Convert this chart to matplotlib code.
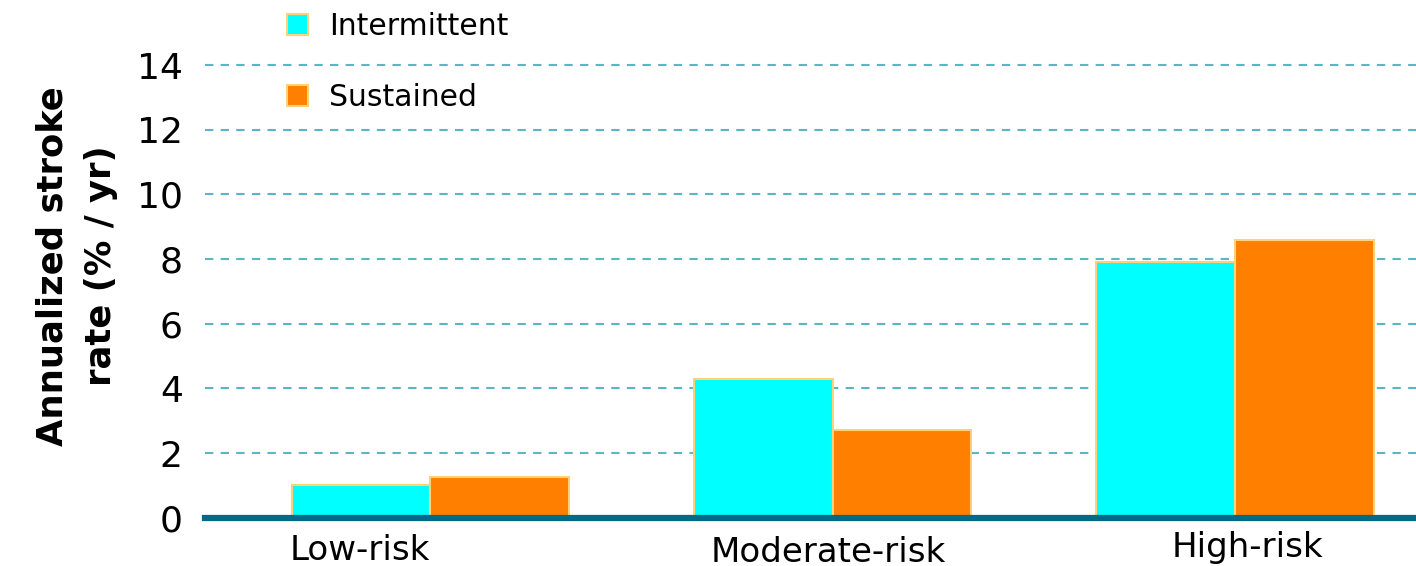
import numpy as np
import matplotlib
matplotlib.use("Agg")
from matplotlib import pyplot as plt

# === dados ===
categorias = ["Low-risk", "Moderate-risk", "High-risk"]
intermitente = [1.0, 4.3, 7.9]
sustentado = [1.25, 2.7, 8.6]
series = ["Intermittent", "Sustained"]
yticks = [0, 2, 4, 6, 8, 10, 12, 14]

# === estilo ===
cor_int = "#00FFFF"
cor_sus = "#FF7F00"
cor_borda = "#FFD27A"
cor_grade = "#5BB5C5"
cor_base = "#006A88"
largura = 0.345
desloc_rotulo = [-0.175, -0.01, 0.03]  # ajuste horizontal dos rotulos das categorias
altura_rotulo = [-0.5, -0.55, -0.4]

fig = plt.figure(figsize=(14.16, 5.66), dpi=100)
ax = fig.add_axes([0.1448, 0.0853, 0.8552, 0.8168])

x = np.arange(len(categorias))
b1 = ax.bar(x - largura / 2, intermitente, largura, color=cor_int,
            edgecolor=cor_borda, linewidth=1.5, label=series[0], zorder=3)
b2 = ax.bar(x + largura / 2, sustentado, largura, color=cor_sus,
            edgecolor=cor_borda, linewidth=1.5, label=series[1], zorder=3)

ax.set_xlim(-0.56, 2.45)
ax.set_ylim(0, 14.3)
ax.set_yticks(yticks)
ax.set_yticklabels([str(v) for v in yticks], fontsize=26)
ax.tick_params(axis="y", length=0, pad=16)
ax.set_xticks([])

for i, nome in enumerate(categorias):
    ax.text(x[i] + desloc_rotulo[i], altura_rotulo[i], nome, ha="center", va="top",
            fontsize=24.5, transform=ax.transData)

for v in yticks[1:]:
    ax.axhline(v, color=cor_grade, linestyle=(0, (4, 3.5)), linewidth=1.5, zorder=1)

for lado in ["top", "right", "left"]:
    ax.spines[lado].set_visible(False)
ax.spines["bottom"].set_color(cor_base)
ax.spines["bottom"].set_linewidth(4.5)
ax.spines["bottom"].set_zorder(4)

fig.text(0.054, 0.53, "Annualized stroke\nrate (% / yr)", rotation=90,
         ha="center", va="center", fontsize=25.5, fontweight="bold",
         linespacing=1.55)

fig.legend(handles=[b1, b2], labels=series, loc="upper left",
           bbox_to_anchor=(0.184, 1.027), frameon=False, fontsize=21.5,
           handlelength=0.7, handleheight=0.7, handletextpad=0.7,
           labelspacing=1.42)

plt.savefig("out.png", dpi=100)
